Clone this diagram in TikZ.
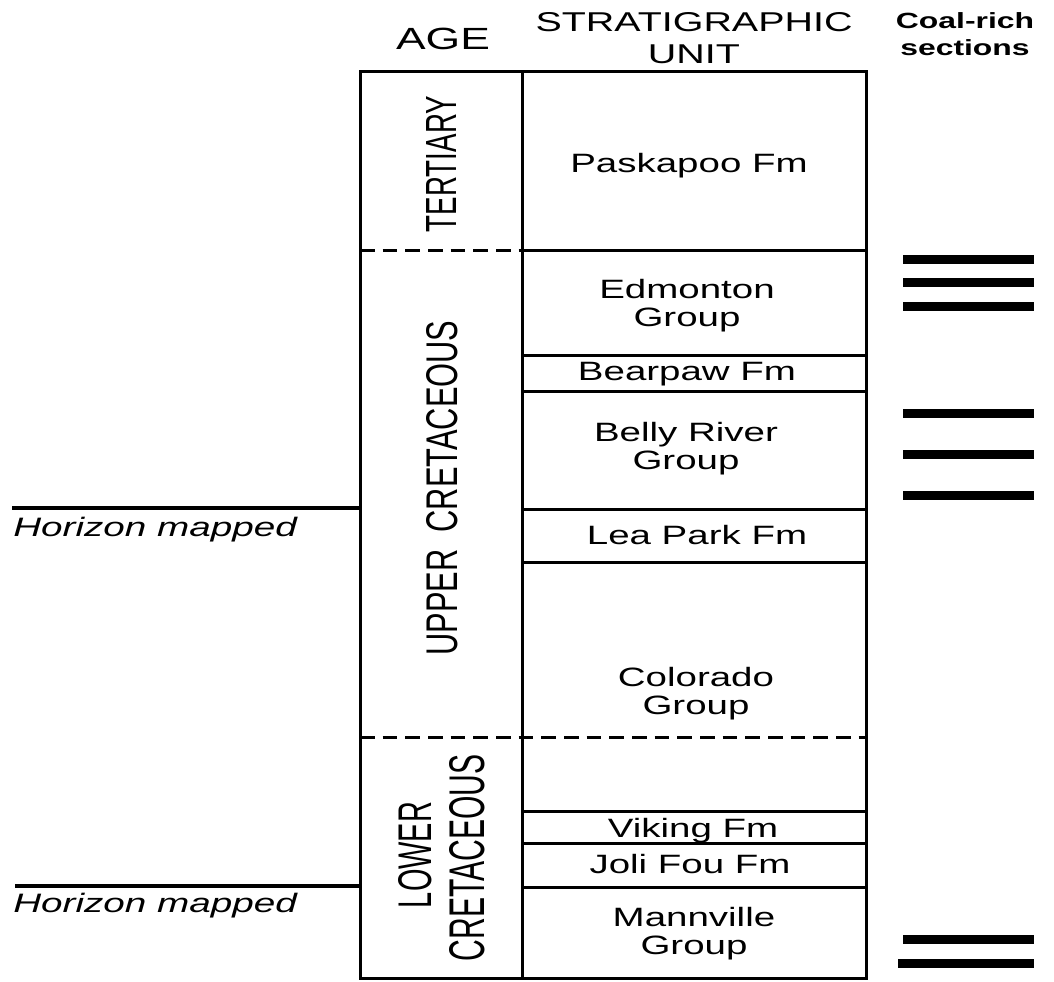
\documentclass[tikz,border=0pt]{standalone}
\usepackage{fontspec}
\setmainfont{Liberation Sans}[FakeStretch=1.45]
\newfontfamily\plainsans{Liberation Sans}
\usepackage{graphicx}
\begin{document}
\begin{tikzpicture}[x=0.75pt,y=-0.75pt,
  frame/.style={line width=2.25pt},
  dashsep/.style={line width=2.25pt, dash pattern=on 11pt off 6pt},
  horizon/.style={line width=3pt},
  coal/.style={line width=6.75pt},
  unitlbl/.style={font=\fontsize{19.9pt}{21pt}\selectfont, align=center, inner sep=0pt},
  unitbase/.style={unitlbl, anchor=base},
  agelbl/.style={rotate=90, inner sep=0pt},
  head/.style={font=\fontsize{20.4pt}{23.5pt}\selectfont, align=center, inner sep=0pt},
  horlbl/.style={font=\fontsize{20pt}{22pt}\selectfont\itshape, anchor=base west, inner sep=0pt}
]
\useasboundingbox (0,0) rectangle (1054,982);

% headers
\node[font=\fontsize{23pt}{25pt}\selectfont, anchor=base, inner sep=0pt] (hage) at (443,49) {AGE};
\node[head] (hunit) at (694,38) {STRATIGRAPHIC\\UNIT};
\node[font=\fontsize{16.5pt}{20pt}\selectfont\bfseries, align=center, inner sep=0pt] (hcoal) at (965,34) {Coal-rich\\sections};

% column frame
\coordinate (tl) at (360,71);
\coordinate (br) at (866,978);
\draw[frame] (tl) rectangle (br);
\draw[frame] (522,71) -- (522,978);

% boundaries
\draw[dashsep] (360,250) -- (522,250);
\draw[frame] (522,250) -- (866,250);
\draw[dashsep] (360,737) -- (866,737);
\foreach \yy in {355,391,509,562,811,843,887}
  \draw[frame] (522,\yy) -- (866,\yy);

% age labels
\node[agelbl] (tert) at (441,164) {\resizebox{102pt}{22.5pt}{\plainsans TERTIARY}};
\node[agelbl] (upper) at (442,488) {\resizebox{251pt}{23.25pt}{\plainsans UPPER\hspace{0.55em}CRETACEOUS}};
\node[agelbl] (lowerA) at (415,855) {\resizebox{79.5pt}{24.75pt}{\plainsans LOWER}};
\node[agelbl] (lowerB) at (467,858) {\resizebox{155pt}{26.25pt}{\plainsans CRETACEOUS}};

% unit labels
\node[unitbase] (pask) at (689,172) {Paskapoo Fm};
\node[unitlbl] (edm) at (687,306) {Edmonton\\Group};
\node[unitbase] (bear) at (687,380) {Bearpaw Fm};
\node[unitlbl] (belly) at (686,449) {Belly River\\Group};
\node[unitbase] (lea) at (697,544) {Lea Park Fm};
\node[unitlbl] (colo) at (696,694) {Colorado\\Group};
\node[unitbase] (vik) at (693,837) {Viking Fm};
\node[unitbase] (joli) at (690,873) {Joli Fou Fm};
\node[unitlbl] (mann) at (694,934) {Mannville\\Group};

% horizons
\coordinate (h1a) at (12,508);
\coordinate (h1b) at (360,508);
\coordinate (h2a) at (15,886);
\coordinate (h2b) at (360,886);
\draw[horizon] (h1a) -- (h1b);
\draw[horizon] (h2a) -- (h2b);
\node[horlbl] (hor1) at (13,536) {Horizon mapped};
\node[horlbl] (hor2) at (13,912) {Horizon mapped};

% coal-rich sections
\foreach \yy in {259,282,306,413,454,495,939}
  \draw[coal] (903,\yy) -- (1034,\yy);
\draw[coal] (898,963) -- (1034,963);
\end{tikzpicture}
\end{document}
